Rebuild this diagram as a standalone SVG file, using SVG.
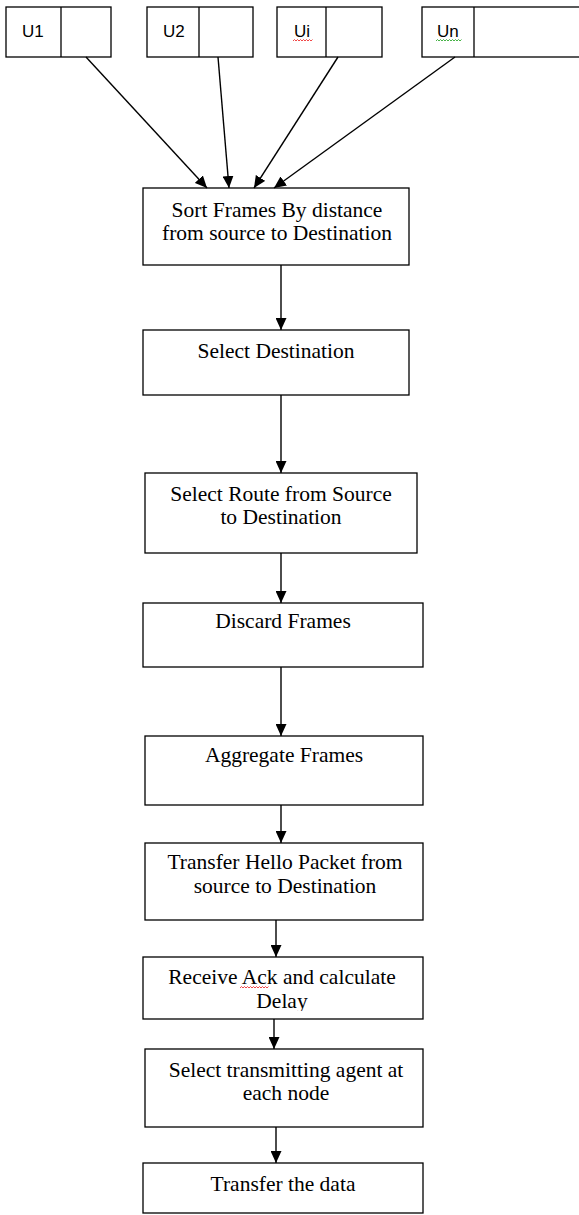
<svg xmlns="http://www.w3.org/2000/svg" width="579" height="1215" viewBox="0 0 579 1215">
<style>
.box{fill:#fff;stroke:#000;stroke-width:1.3}
.t{font-family:"Liberation Serif","Times New Roman",serif;font-size:21.5px;fill:#000;text-anchor:middle}
.u{font-family:"Liberation Sans",Arial,sans-serif;font-size:17px;fill:#000}
.c{stroke:#000;stroke-width:1.4;fill:none;marker-end:url(#ah)}
.sq{fill:none;stroke-width:0.9}
</style>
<defs>
<marker id="ah" markerUnits="userSpaceOnUse" markerWidth="12" markerHeight="11" refX="12" refY="5.5" orient="auto">
<path d="M0,0 L12,5.5 L0,11 z" fill="#000"/>
</marker>
<clipPath id="clip7"><rect x="143" y="957" width="280" height="54"/></clipPath>
</defs>
<rect width="579" height="1215" fill="#fff"/>
<g id="u1"><rect class="box" x="6" y="7" width="105" height="50"/><line x1="61" y1="7" x2="61" y2="57" stroke="#000" stroke-width="1.3"/><text class="u" x="22" y="37">U1</text></g>
<g id="u2"><rect class="box" x="147" y="7" width="106" height="50"/><line x1="199" y1="7" x2="199" y2="57" stroke="#000" stroke-width="1.3"/><text class="u" x="163" y="37">U2</text></g>
<g id="ui"><rect class="box" x="277" y="7" width="105" height="50"/><line x1="326" y1="7" x2="326" y2="57" stroke="#000" stroke-width="1.3"/><text class="u" x="294" y="37">Ui</text><path class="sq" stroke="#e33" d="M293,41 l1.5,-1.5 l1.5,1.5 l1.5,-1.5 l1.5,1.5 l1.5,-1.5 l1.5,1.5 l1.5,-1.5 l1.5,1.5 l1.5,-1.5 l1.5,1.5 l1.5,-1.5 l1.5,1.5 l1.5,-1.5"/></g>
<g id="un"><rect class="box" x="422" y="7" width="160" height="50"/><line x1="474" y1="7" x2="474" y2="57" stroke="#000" stroke-width="1.3"/><text class="u" x="437" y="37">Un</text><path class="sq" stroke="#3a3" d="M436,41 l1.5,-1.5 l1.5,1.5 l1.5,-1.5 l1.5,1.5 l1.5,-1.5 l1.5,1.5 l1.5,-1.5 l1.5,1.5 l1.5,-1.5 l1.5,1.5 l1.5,-1.5 l1.5,1.5 l1.5,-1.5 l1.5,1.5 l1.5,-1.5 l1.5,1.5 l1.5,-1.5"/></g>

<g id="n1"><rect class="box" x="143" y="188" width="266" height="77"/><text class="t" x="277" y="217">Sort Frames By distance</text><text class="t" x="277" y="240">from source to Destination</text></g>
<g id="n2"><rect class="box" x="143" y="330" width="266" height="65"/><text class="t" x="276" y="358">Select Destination</text></g>
<g id="n3"><rect class="box" x="145" y="473" width="272" height="80"/><text class="t" x="281" y="501">Select Route from Source</text><text class="t" x="281" y="524">to Destination</text></g>
<g id="n4"><rect class="box" x="143" y="603" width="280" height="64"/><text class="t" x="283" y="628">Discard Frames</text></g>
<g id="n5"><rect class="box" x="145" y="736" width="278" height="69"/><text class="t" x="284" y="762">Aggregate Frames</text></g>
<g id="n6"><rect class="box" x="145" y="843" width="278" height="77"/><text class="t" x="285" y="869">Transfer Hello Packet from</text><text class="t" x="285" y="893">source to Destination</text></g>
<g id="n7"><rect class="box" x="143" y="957" width="280" height="62"/><g clip-path="url(#clip7)"><text class="t" x="282" y="984">Receive Ack and calculate</text><text class="t" x="282" y="1008">Delay</text></g><path class="sq" stroke="#e33" d="M240,988 l1.5,-1.5 l1.5,1.5 l1.5,-1.5 l1.5,1.5 l1.5,-1.5 l1.5,1.5 l1.5,-1.5 l1.5,1.5 l1.5,-1.5 l1.5,1.5 l1.5,-1.5 l1.5,1.5 l1.5,-1.5 l1.5,1.5 l1.5,-1.5 l1.5,1.5 l1.5,-1.5 l1.5,1.5 l1.5,-1.5"/></g>
<g id="n8"><rect class="box" x="145" y="1049" width="278" height="78"/><text class="t" x="286" y="1077">Select transmitting agent at</text><text class="t" x="286" y="1100">each node</text></g>
<g id="n9"><rect class="box" x="143" y="1163" width="280" height="50"/><text class="t" x="283" y="1191">Transfer the data</text></g>

<g id="connectors">
<line class="c" x1="86" y1="57" x2="207" y2="188"/>
<line class="c" x1="218" y1="57" x2="229" y2="188"/>
<line class="c" x1="338" y1="57" x2="254" y2="188"/>
<line class="c" x1="455" y1="57" x2="274" y2="188"/>
<line class="c" x1="281" y1="265" x2="281" y2="330"/>
<line class="c" x1="281" y1="395" x2="281" y2="473"/>
<line class="c" x1="281" y1="553" x2="281" y2="603"/>
<line class="c" x1="281" y1="667" x2="281" y2="736"/>
<line class="c" x1="281" y1="805" x2="281" y2="843"/>
<line class="c" x1="276" y1="920" x2="276" y2="957"/>
<line class="c" x1="274" y1="1019" x2="274" y2="1049"/>
<line class="c" x1="276" y1="1127" x2="276" y2="1163"/>
</g>
</svg>
